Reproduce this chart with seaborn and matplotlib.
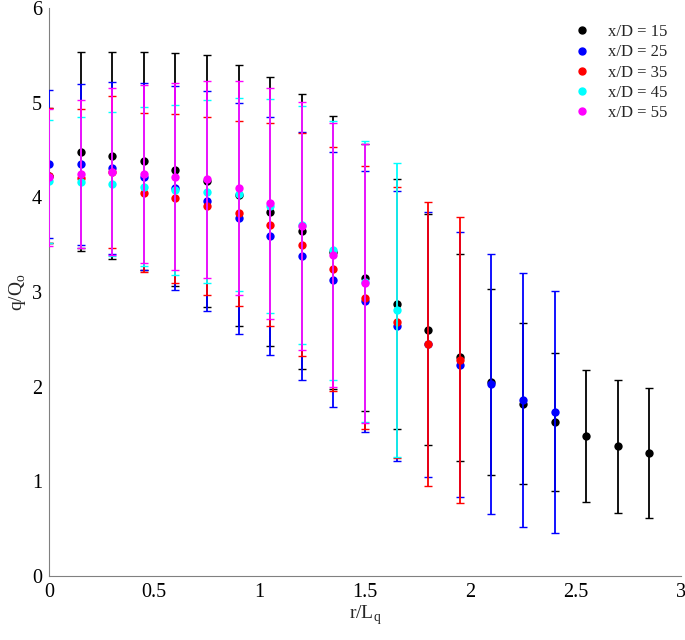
import numpy as np
import pandas as pd
import seaborn as sns
import matplotlib
matplotlib.use("Agg")
import matplotlib.pyplot as plt
from matplotlib.lines import Line2D

# ---- data ----
r_step = 0.15
labels = ["x/D = 15", "x/D = 25", "x/D = 35", "x/D = 45", "x/D = 55"]
colors = ["#000000", "#0000ff", "#ff0000", "#00ffff", "#ff00ff"]

q15 = [4.23, 4.48, 4.44, 4.38, 4.29, 4.17, 4.02, 3.85, 3.64, 3.42, 3.15, 2.87,
       2.60, 2.31, 2.05, 1.82, 1.63, 1.48, 1.37, 1.30]
e15 = [0.71, 1.05, 1.09, 1.15, 1.23, 1.33, 1.38, 1.42, 1.45, 1.44, 1.41, 1.32,
       1.22, 1.09, 0.98, 0.85, 0.73, 0.70, 0.70, 0.685]

q25 = [4.35, 4.35, 4.31, 4.22, 4.10, 3.96, 3.78, 3.59, 3.38, 3.13, 2.90, 2.64,
       2.45, 2.23, 2.03, 1.86, 1.73]
e25 = [0.78, 0.85, 0.91, 0.99, 1.08, 1.16, 1.22, 1.26, 1.31, 1.35, 1.38, 1.43,
       1.40, 1.40, 1.37, 1.34, 1.28]

q35 = [4.23, 4.20, 4.27, 4.05, 3.99, 3.91, 3.83, 3.71, 3.50, 3.24, 2.94, 2.68,
       2.45, 2.28]
e35 = [0.71, 0.73, 0.80, 0.84, 0.89, 0.94, 0.98, 1.07, 1.18, 1.29, 1.39, 1.43,
       1.50, 1.51]

q45 = [4.17, 4.16, 4.14, 4.11, 4.08, 4.06, 4.03, 3.91, 3.71, 3.44, 3.11, 2.81]
e45 = [0.65, 0.69, 0.76, 0.84, 0.90, 0.97, 1.02, 1.13, 1.26, 1.37, 1.48, 1.55]

q55 = [4.21, 4.25, 4.27, 4.25, 4.22, 4.19, 4.10, 3.94, 3.70, 3.39, 3.09]
e55 = [0.72, 0.78, 0.88, 0.94, 0.99, 1.04, 1.13, 1.22, 1.31, 1.39, 1.47]

x_ticks = [0, 0.5, 1, 1.5, 2, 2.5, 3]
x_ticklabels = ["0", "0.5", "1", "1.5", "2", "2.5", "3"]
y_ticks = [0, 1, 2, 3, 4, 5, 6]

series_q = [q15, q25, q35, q45, q55]
series_e = [e15, e25, e35, e45, e55]

frames = []
for lab, q, e in zip(labels, series_q, series_e):
    n = len(q)
    frames.append(pd.DataFrame({"r": np.round(np.arange(n) * r_step, 3),
                                "q": q, "err": e, "series": lab}))
df = pd.concat(frames, ignore_index=True)

# ---- plot ----
sns.set_theme(style="white")
plt.rcParams["font.family"] = ["Liberation Serif", "DejaVu Serif"]
plt.rcParams["mathtext.fontset"] = "custom"
plt.rcParams["mathtext.rm"] = "Liberation Serif"

fig = plt.figure(figsize=(6.85, 6.4), dpi=100)
ax = fig.add_axes([0.0715, 0.1, 0.9225, 0.8875])

for i, (lab, col) in enumerate(zip(labels, colors)):
    sub = df[df["series"] == lab]
    ax.errorbar(sub["r"], sub["q"], yerr=sub["err"], fmt="none",
                ecolor=col, elinewidth=1.3, capsize=3.2, capthick=1.0,
                zorder=2 + 2 * i)
    sns.scatterplot(data=sub, x="r", y="q", color=col, s=36, linewidth=0,
                    ax=ax, zorder=3 + 2 * i, legend=False)

ax.set_xlim(0, 3)
ax.set_ylim(0, 6)
ax.set_xticks(x_ticks)
ax.set_xticklabels(x_ticklabels)
ax.set_yticks(y_ticks)
ax.tick_params(direction="in", length=5, width=0.8, color="#808080",
               labelsize=14.5, labelcolor="black", pad=5)
for side in ["top", "right"]:
    ax.spines[side].set_visible(False)
for side in ["left", "bottom"]:
    ax.spines[side].set_color("#808080")
    ax.spines[side].set_linewidth(0.8)

ax.set_xlabel(r"r/L$_\mathregular{q}$", fontsize=14, labelpad=1)
ax.set_ylabel(r"q/Q$_\mathregular{o}$", fontsize=14, labelpad=3)

handles = [Line2D([0], [0], marker="o", linestyle="none", color=c,
                  markersize=5) for c in colors]
ax.legend(handles, labels, loc="upper right", frameon=False, fontsize=12,
          handletextpad=0.6, labelspacing=0.25, borderaxespad=0.4,
          bbox_to_anchor=(1.0, 0.995))

fig.savefig("out.png", dpi=100)
